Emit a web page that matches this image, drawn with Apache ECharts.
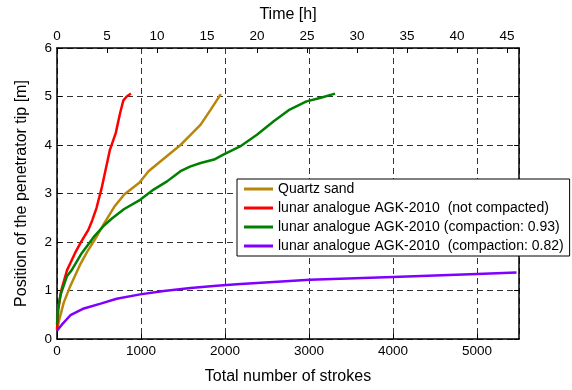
<!DOCTYPE html>
<html>
<head>
<meta charset="utf-8">
<script src="https://cdn.jsdelivr.net/npm/echarts@6/dist/echarts.min.js"></script>
<style>
  html, body { margin: 0; padding: 0; background: #fff; }
  #chart { width: 572px; height: 390px; }
</style>
</head>
<body>
<div id="chart"></div>
<script>
const quartzStrokes = [0, 20, 80, 160, 280, 360, 450, 560, 680, 800, 980, 1090, 1230, 1470, 1590, 1710, 1830, 1950];
const quartzPos = [0.18, 0.35, 0.75, 1.1, 1.55, 1.8, 2.05, 2.38, 2.72, 2.98, 3.22, 3.46, 3.66, 4.0, 4.21, 4.42, 4.73, 5.05];

const looseStrokes = [0, 15, 50, 120, 214, 280, 373, 420, 470, 530, 580, 630, 700, 750, 790, 830, 880];
const loosePos = [0.2, 0.6, 1.0, 1.42, 1.77, 1.98, 2.25, 2.45, 2.7, 3.1, 3.5, 3.9, 4.25, 4.65, 4.92, 5.0, 5.06];

const c93Strokes = [0, 10, 40, 120, 175, 294, 440, 560, 650, 800, 990, 1150, 1310, 1470, 1590, 1710, 1870, 1980, 2180, 2380, 2580, 2770, 2970, 3130, 3310];
const c93Pos = [0.3, 0.6, 0.9, 1.3, 1.42, 1.77, 2.11, 2.34, 2.48, 2.68, 2.87, 3.08, 3.25, 3.46, 3.56, 3.63, 3.7, 3.8, 3.97, 4.21, 4.49, 4.73, 4.9, 4.97, 5.06];

const c82Strokes = [0, 60, 160, 320, 520, 710, 990, 1270, 1590, 1900, 2140, 3010, 4000, 5000, 5470];
const c82Pos = [0.17, 0.3, 0.49, 0.63, 0.73, 0.83, 0.92, 0.99, 1.05, 1.1, 1.13, 1.22, 1.28, 1.34, 1.37];

const seriesNames = [
  'Quartz sand',
  'lunar analogue AGK-2010  (not compacted)',
  'lunar analogue AGK-2010 (compaction: 0.93)',
  'lunar analogue AGK-2010  (compaction: 0.82)'
];
const seriesColors = ['#B8860B', '#FF0000', '#008000', '#8000FF'];

const font = "'Liberation Sans', Arial, sans-serif";
const pairs = (xs, ys) => xs.map((x, i) => [x, ys[i]]);
const plain = v => String(v);

const lineSeries = (name, data, color) => ({
  name: name,
  type: 'line',
  data: data,
  showSymbol: false,
  symbol: 'none',
  smooth: false,
  color: color,
  lineStyle: { width: 2.5, color: color },
  xAxisIndex: 0,
  yAxisIndex: 0,
  animation: false
});

const axisLine = { show: true, onZero: false, lineStyle: { color: '#000', width: 1.5 } };
const tickIn = { show: true, inside: true, length: 5, lineStyle: { color: '#000', width: 1 } };
const dashed = { show: true, lineStyle: { color: '#333', width: 1, type: [6, 4] } };

const chart = echarts.init(document.getElementById('chart'), null, { renderer: 'canvas' });

chart.setOption({
  backgroundColor: '#fff',
  animation: false,
  textStyle: { fontFamily: font },
  grid: { left: 57, right: 53, top: 48, bottom: 51, containLabel: false },
  legend: {
    orient: 'vertical',
    left: 237,
    top: 179,
    padding: [3, 6, 3, 7],
    itemGap: 5,
    itemWidth: 29,
    itemHeight: 3,
    itemTextGap: 4,
    icon: 'rect',
    backgroundColor: '#fff',
    borderColor: '#000',
    borderWidth: 1,
    borderRadius: 0,
    textStyle: { fontFamily: font, fontSize: 14, color: '#000' },
    data: seriesNames
  },
  xAxis: [
    {
      type: 'value',
      position: 'bottom',
      min: 0,
      max: 5500,
      interval: 1000,
      name: 'Total number of strokes',
      nameLocation: 'middle',
      nameGap: 30,
      nameTextStyle: { fontFamily: font, fontSize: 16, color: '#000' },
      axisLine: axisLine,
      axisTick: tickIn,
      axisLabel: { color: '#000', fontFamily: font, fontSize: 13.5, margin: 5, showMaxLabel: false, formatter: plain },
      splitLine: dashed
    },
    {
      type: 'value',
      position: 'top',
      min: 0,
      max: 46.2,
      interval: 5,
      name: 'Time [h]',
      nameLocation: 'middle',
      nameGap: 25,
      nameTextStyle: { fontFamily: font, fontSize: 16, color: '#000' },
      axisLine: axisLine,
      axisTick: tickIn,
      axisLabel: { color: '#000', fontFamily: font, fontSize: 13.5, margin: 5, showMaxLabel: false, formatter: plain },
      splitLine: { show: false }
    }
  ],
  yAxis: [
    {
      type: 'value',
      position: 'left',
      min: 0,
      max: 6,
      interval: 1,
      name: 'Position of the penetrator tip [m]',
      nameLocation: 'middle',
      nameGap: 27,
      nameTextStyle: { fontFamily: font, fontSize: 16, color: '#000' },
      axisLine: axisLine,
      axisTick: tickIn,
      axisLabel: { color: '#000', fontFamily: font, fontSize: 13.5, margin: 5, formatter: plain },
      splitLine: dashed
    },
    {
      type: 'value',
      position: 'right',
      min: 0,
      max: 6,
      interval: 1,
      axisLine: axisLine,
      axisTick: tickIn,
      axisLabel: { show: false },
      splitLine: { show: false }
    }
  ],
  series: [
    lineSeries(seriesNames[0], pairs(quartzStrokes, quartzPos), seriesColors[0]),
    lineSeries(seriesNames[1], pairs(looseStrokes, loosePos), seriesColors[1]),
    lineSeries(seriesNames[2], pairs(c93Strokes, c93Pos), seriesColors[2]),
    lineSeries(seriesNames[3], pairs(c82Strokes, c82Pos), seriesColors[3])
  ]
});
</script>
</body>
</html>
